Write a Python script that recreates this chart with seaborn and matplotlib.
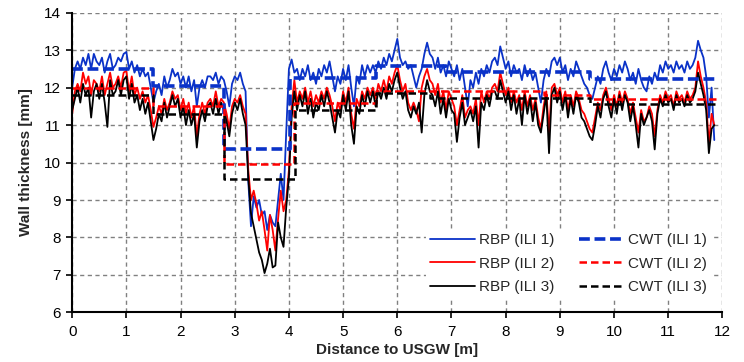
import numpy as np
import pandas as pd
import matplotlib
matplotlib.use("Agg")
import matplotlib.pyplot as plt
import seaborn as sns

# ---- data -------------------------------------------------------------
step = 0.05  # sampling interval of the RBP profiles [m]

rbp_ili1 = [
    12.0, 12.5, 12.7, 12.5, 12.8, 12.6, 12.9, 12.5, 12.9, 12.7, 12.6, 12.8, 12.4, 12.7, 12.9, 12.5,
    12.6, 12.8, 12.7, 12.9, 12.95, 12.5, 12.7, 12.4, 12.6, 12.3, 12.5, 12.3, 12.4, 12.0, 11.6,
    11.9, 12.1, 11.8, 12.3, 12.0, 12.2, 12.5, 12.3, 12.4, 12.1, 12.3, 12.0, 12.3, 11.9, 12.2, 11.5,
    12.0, 12.2, 12.0, 12.3, 12.3, 12.2, 12.4, 12.1, 12.3, 12.2,
    11.9, 11.5, 12.1, 12.3, 12.2, 12.4, 12.1, 11.9, 9.5, 8.3, 9.1, 8.8, 9.0, 8.6, 8.7, 8.2,
    8.6, 8.4, 8.3, 9.0, 9.7, 9.0, 10.8,
    12.5, 12.75, 12.4, 12.5, 12.2, 12.5, 12.3, 12.6, 12.2, 12.4, 12.1, 12.5, 12.3, 12.6, 12.4, 12.7,
    12.3, 11.9, 12.3, 12.1, 12.5, 12.2, 12.6, 12.0, 11.5, 12.3, 12.1, 12.6, 12.3, 12.6, 12.4,
    12.6, 12.4, 12.7, 12.5, 12.8, 12.6, 12.9, 12.7, 13.0, 13.3, 12.8, 12.6, 12.7, 12.5, 12.6,
    12.3, 12.0, 12.3, 12.5, 12.9, 13.2, 12.9, 12.8, 12.5, 12.8, 12.4, 12.6, 12.3, 12.7, 12.5,
    12.3, 12.6, 12.2, 12.5, 12.0, 11.5, 12.2, 12.0, 12.4, 12.1, 12.5, 12.3, 12.6, 12.4, 12.7,
    12.8, 12.6, 13.1, 12.8, 12.5, 12.7, 12.3, 12.6, 12.4, 12.5, 12.2, 12.6, 12.3, 12.5, 12.2,
    12.4, 12.0, 11.6, 12.2, 12.5, 12.3, 12.7, 12.8, 12.6, 12.8, 12.4, 12.6, 12.2, 12.5, 12.3,
    12.7, 12.5, 12.3, 12.1, 12.0, 11.8, 11.7, 12.0, 12.3, 12.1, 12.5, 12.7, 12.4, 12.2, 12.5,
    12.3, 12.6, 12.4, 12.7, 12.5, 12.2, 12.4, 12.1, 12.5, 12.2, 12.0, 11.9, 12.3, 12.1, 12.4,
    12.2, 12.6, 12.4, 12.7, 12.5, 12.6, 12.4, 12.7, 12.5, 12.6, 12.4, 12.7, 12.5, 12.6, 12.8,
    13.25, 13.0, 12.8, 12.3, 11.2, 12.0, 10.6,
]

rbp_ili2 = [
    11.3, 11.9, 12.1, 11.9, 12.4, 12.1, 12.3, 11.8, 12.2, 12.1, 11.9, 12.3, 11.8, 12.1, 12.4, 12.0,
    12.1, 12.3, 12.0, 12.4, 12.45, 11.9, 12.3, 11.8, 12.0, 11.7, 11.9, 11.6, 11.8, 11.4, 10.95,
    11.2, 11.5, 11.3, 11.7, 11.4, 11.6, 11.9, 11.7, 11.8, 11.4, 11.7, 11.3, 11.6, 11.2, 11.5, 10.7,
    11.3, 11.6, 11.3, 11.6, 11.7, 11.5, 11.9, 11.5, 11.7, 11.6,
    11.3, 10.9, 11.5, 11.7, 11.6, 11.8, 11.5, 11.3, 9.8, 9.0, 9.25, 8.9, 8.45, 8.7, 8.2, 7.65,
    8.6, 8.2, 7.65, 8.5, 9.25, 8.7, 9.0,
    9.8, 11.5, 12.2, 11.6, 11.9, 11.7, 12.0, 11.6, 11.9, 11.5, 11.8, 11.6, 11.9, 11.7, 12.0, 11.8,
    11.5, 11.1, 11.6, 11.4, 11.9, 11.6, 12.0, 11.3, 10.9, 11.7, 11.5, 11.9, 11.7, 12.0, 11.8,
    12.0, 11.7, 12.1, 11.9, 12.2, 11.9, 12.3, 12.1, 12.4, 12.6, 12.2, 11.9, 12.1, 11.6, 11.4,
    11.6, 11.4, 11.1, 12.0, 12.3, 12.5, 12.2, 12.1, 11.8, 12.1, 11.6, 11.9, 11.4, 11.9, 11.7,
    11.5, 11.0, 11.4, 11.8, 11.2, 11.4, 11.5, 11.3, 11.7, 11.0, 11.9, 11.6, 11.9, 11.7, 12.0,
    12.1, 11.9, 12.4, 12.1, 11.8, 12.0, 11.6, 11.9, 11.6, 11.8, 11.4, 11.9, 11.5, 11.8, 11.4,
    11.7, 11.2, 10.9, 11.5, 11.9, 10.8, 12.0, 12.1, 11.8, 12.0, 11.6, 11.9, 11.4, 11.8, 11.5,
    11.9, 11.7, 11.4, 11.3, 11.1, 10.9, 10.8, 11.2, 11.6, 11.4, 11.8, 12.0, 11.7, 11.4, 11.8,
    11.5, 11.9, 11.6, 11.9, 11.7, 11.3, 11.6, 11.2, 10.8, 11.4, 11.1, 11.2, 11.5, 11.3, 10.7,
    11.4, 11.8, 11.6, 11.9, 11.7, 11.8, 11.5, 11.9, 11.7, 11.8, 11.6, 11.9, 11.7, 11.8, 12.0,
    12.7, 12.3, 12.0, 11.6, 10.5, 11.3, 11.0,
]

rbp_ili3 = [
    11.4, 11.7, 12.0, 11.6, 12.1, 11.8, 12.0, 11.2, 11.9, 12.1, 11.7, 12.1, 11.6, 10.95, 12.2, 11.8,
    11.9, 12.2, 11.8, 12.2, 12.3, 11.7, 12.1, 11.6, 11.8, 11.4, 11.7, 11.3, 11.6, 11.1, 10.6,
    10.9, 11.3, 11.1, 11.6, 11.2, 11.5, 11.8, 11.5, 11.7, 11.2, 11.5, 11.0, 11.4, 11.0, 11.3, 10.4,
    11.1, 11.4, 11.1, 11.5, 11.6, 11.3, 11.7, 11.3, 11.6, 11.4,
    11.1, 10.7, 11.3, 11.6, 11.4, 11.7, 11.3, 11.0, 9.6, 8.65, 8.3, 7.95, 7.6, 7.4, 7.05, 7.3,
    7.7, 7.2, 7.25, 8.4, 8.0, 7.75, 8.8,
    9.6, 11.2, 11.9, 11.4, 11.8, 11.5, 11.9, 11.3, 11.7, 11.2, 11.6, 11.4, 11.8, 11.5, 11.9, 11.6,
    11.2, 10.8, 11.4, 11.2, 11.8, 11.4, 11.9, 11.0, 10.5, 11.5, 11.3, 11.8, 11.5, 11.9, 11.6,
    11.9, 11.5, 11.9, 11.7, 12.0, 11.7, 12.1, 11.9, 12.2, 12.4, 12.0, 11.7, 11.9, 11.4, 11.2,
    11.5, 11.3, 11.6, 10.8, 11.8, 12.2, 11.9, 11.8, 11.5, 11.9, 11.3, 11.7, 11.2, 11.7, 11.4,
    11.3, 10.55, 11.2, 11.6, 11.0, 11.2, 11.4, 11.1, 11.5, 10.4, 11.6, 11.4, 11.8, 11.5, 11.9,
    11.9, 11.7, 12.2, 11.9, 11.6, 11.9, 11.4, 11.8, 11.3, 11.7, 11.0, 11.8, 11.3, 11.7, 11.1,
    11.6, 11.0, 10.8, 11.3, 11.8, 10.25, 11.8, 12.0, 11.6, 11.9, 11.4, 11.8, 11.2, 11.7, 11.3,
    11.8, 11.6, 11.2, 11.1, 10.9, 10.7, 10.6, 11.0, 11.5, 11.2, 11.7, 11.9, 11.5, 11.2, 11.7,
    11.3, 11.8, 11.4, 11.8, 11.6, 11.1, 11.5, 11.0, 10.4, 11.3, 11.0, 11.2, 11.4, 11.1, 10.35,
    11.3, 11.7, 11.5, 11.8, 11.6, 11.7, 11.4, 11.8, 11.6, 11.7, 11.5, 11.8, 11.6, 11.7, 11.9,
    12.4, 12.1, 11.8, 11.4, 10.25, 10.9, 11.0,
]

# CWT profiles: section boundaries [m] and constant thickness per section [mm]
cwt_ili1_edges = [0.0, 1.5, 2.8, 4.02, 5.6, 6.9, 9.55, 11.9]
cwt_ili1_levels = [12.5, 12.05, 10.35, 12.25, 12.58, 12.42, 12.22]
cwt_ili2_edges = [0.0, 1.5, 2.8, 4.1, 5.6, 8.7, 9.55, 11.9]
cwt_ili2_levels = [12.0, 11.5, 9.95, 11.6, 11.92, 11.8, 11.7]
cwt_ili3_edges = [0.0, 1.5, 2.8, 4.12, 5.6, 6.6, 9.55, 11.9]
cwt_ili3_levels = [11.8, 11.3, 9.55, 11.4, 11.85, 11.73, 11.55]

x_ticks = list(range(0, 13))
y_ticks = list(range(6, 15))

# ---- style ------------------------------------------------------------
sns.set_theme(style="white")
plt.rcParams["font.family"] = ["Liberation Sans", "DejaVu Sans"]
plt.rcParams["font.size"] = 11

blue, red, black = "#0a32c8", "#ff0000", "#000000"

fig = plt.figure(figsize=(7.44, 3.62), dpi=100)
ax = fig.add_axes([0.097, 0.137, 0.874, 0.828])

distance = np.arange(len(rbp_ili1)) * step

rbp = [(rbp_ili1, blue, "RBP (ILI 1)"),
       (rbp_ili2, red, "RBP (ILI 2)"),
       (rbp_ili3, black, "RBP (ILI 3)")]
for vals, col, lab in rbp:
    sns.lineplot(x=distance, y=vals, color=col, lw=1.3, label=lab, ax=ax,
                 sort=False, estimator=None)


def step_profile(edges, levels):
    return pd.DataFrame({"x": edges, "y": list(levels) + [levels[-1]]})


cwt = [(cwt_ili1_edges, cwt_ili1_levels, blue, 2.6, (3.0, 1.3), "CWT (ILI 1)"),
       (cwt_ili2_edges, cwt_ili2_levels, red, 1.8, (3.0, 1.6), "CWT (ILI 2)"),
       (cwt_ili3_edges, cwt_ili3_levels, black, 1.8, (3.0, 1.6), "CWT (ILI 3)")]
for edges, levels, col, lw, dash, lab in cwt:
    df = step_profile(edges, levels)
    sns.lineplot(data=df, x="x", y="y", color=col, lw=lw, drawstyle="steps-post",
                 label=lab, ax=ax, sort=False, estimator=None, dashes=False)
    ax.lines[-1].set_dashes(dash)

# ---- axes -------------------------------------------------------------
ax.set_xlim(0, 12)
ax.set_ylim(6, 14)
ax.set_xticks(x_ticks)
ax.set_yticks(y_ticks)
ax.grid(True, color="#808080", linestyle=(0, (3, 2.5)), linewidth=1.0)
ax.set_axisbelow(True)
for side in ("top", "right"):
    ax.spines[side].set_visible(False)
for side in ("left", "bottom"):
    ax.spines[side].set_color("black")
    ax.spines[side].set_linewidth(1.5)
ax.tick_params(axis="both", direction="out", length=4, width=1.2, color="black",
               labelsize=11, labelcolor="black", bottom=True, left=True)
ax.tick_params(axis="x", pad=5)
ax.tick_params(axis="y", pad=4)
ax.set_xlabel("Distance to USGW [m]", fontsize=11, fontweight="bold", labelpad=3)
ax.set_ylabel("Wall thickness [mm]", fontsize=11, fontweight="bold", labelpad=8)

handles, labels = ax.get_legend_handles_labels()
leg = ax.legend(handles, labels, ncol=2, loc="lower right",
                bbox_to_anchor=(0.995, 0.02), frameon=True, fancybox=False,
                edgecolor="none", facecolor="white", framealpha=1.0,
                fontsize=11, handlelength=2.9, handletextpad=0.3,
                columnspacing=1.6, labelspacing=0.62, borderpad=0.3)

fig.savefig("out.png", dpi=100)
